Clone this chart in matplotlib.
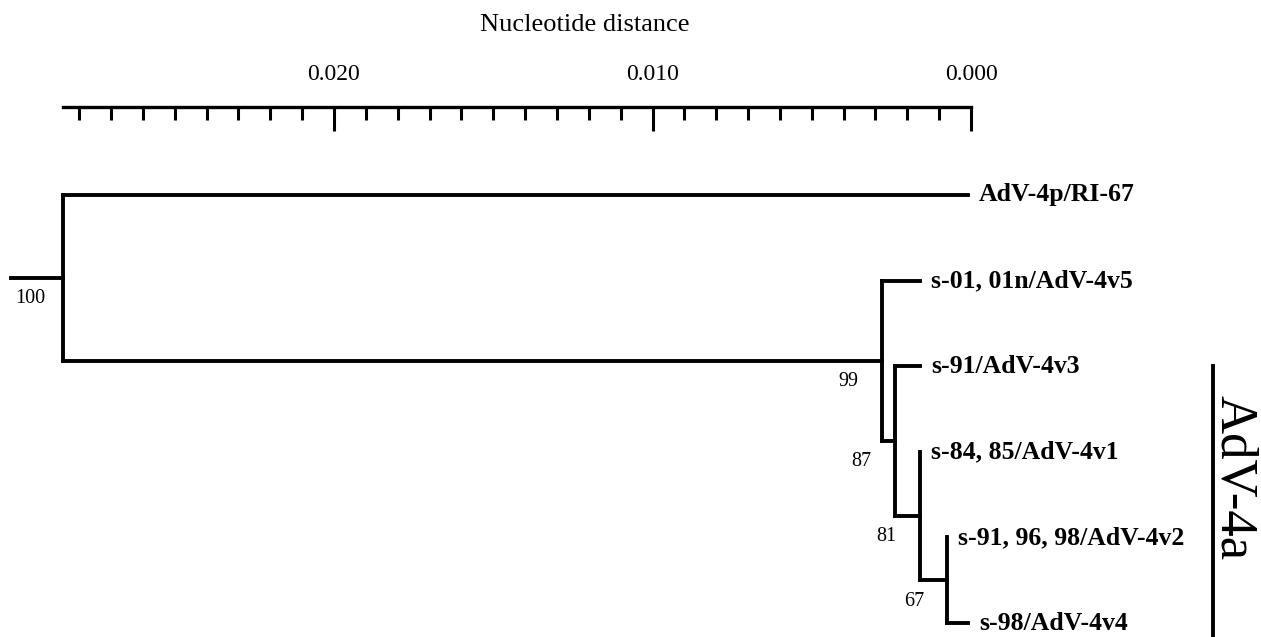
import numpy as np
import matplotlib.pyplot as plt
from matplotlib.ticker import FixedLocator, FormatStrFormatter

plt.rcParams['font.family'] = ['Liberation Serif', 'DejaVu Serif']

# leaves, top to bottom, with their distance from the 0.000 end of the scale
leaves = ['AdV-4p/RI-67', 's-01, 01n/AdV-4v5', 's-91/AdV-4v3',
          's-84, 85/AdV-4v1', 's-91, 96, 98/AdV-4v2', 's-98/AdV-4v4']
leaf_height = [0.0001, 0.0016, 0.0016, 0.0016, 0.00075, 0.0001]

# internal nodes, bottom-up: two children, height and bootstrap support
node_ids = ['n67', 'n81', 'n87', 'n99', 'root']
node_left = ['s-91, 96, 98/AdV-4v2', 's-84, 85/AdV-4v1', 's-91/AdV-4v3',
             's-01, 01n/AdV-4v5', 'AdV-4p/RI-67']
node_right = ['s-98/AdV-4v4', 'n67', 'n81', 'n87', 'n99']
node_height = [0.00075, 0.0016, 0.0024, 0.0028, 0.0285]
bootstrap = [67, 81, 87, 99, 100]

scale_major = [0.0, 0.010, 0.020]
clade_name = 'AdV-4a'
clade_leaves = ['s-91/AdV-4v3', 's-98/AdV-4v4']

# pixel layout of the figure
W, H = 1261, 637
px_per_unit = 31.85 / 0.001      # pixels per unit of distance
x_zero = 971                      # pixel column of distance 0
y_first, y_step = 195, 85.6       # pixel row of first leaf, leaf spacing

fig = plt.figure(figsize=(W / 100, H / 100), dpi=100)
ax = fig.add_axes([0, 0, 1, 1])
xlim = (x_zero / px_per_unit, -(W - x_zero) / px_per_unit)
ax.set_xlim(*xlim)
ax.set_ylim((H - y_first) / y_step, -y_first / y_step)
ax.axis('off')

lw = 2.8
pos = {}
hgt = {}
for i, (name, h) in enumerate(zip(leaves, leaf_height)):
    pos[name] = i
    hgt[name] = h

for nid, left, right, h, bs in zip(node_ids, node_left, node_right, node_height, bootstrap):
    yl, yr = pos[left], pos[right]
    ax.plot([h, h], [yl, yr], color='black', lw=lw, solid_capstyle='projecting')
    for child in (left, right):
        ax.plot([h, hgt[child]], [pos[child], pos[child]], color='black', lw=lw,
                solid_capstyle='projecting')
    pos[nid] = (yl + yr) / 2
    hgt[nid] = h
    ax.annotate(str(bs), (h, pos[nid]), xytext=(-24, -15), textcoords='offset points',
                ha='center', va='center', fontsize=14.5)

# stub to the root
root_h = node_height[-1]
ax.plot([root_h, root_h + 52 / px_per_unit], [pos['root'], pos['root']],
        color='black', lw=lw)

for name in leaves:
    ax.annotate(name, (hgt[name], pos[name]), xytext=(8, 0), textcoords='offset points',
                ha='left', va='center', fontsize=18.5, fontweight='bold')

# clade bracket
bx = -242 / px_per_unit
ax.plot([bx, bx], [pos[clade_leaves[0]], pos[clade_leaves[1]] + 0.5], color='black', lw=2.8)
ax.text(bx - 21 / px_per_unit, (pos[clade_leaves[0]] + pos[clade_leaves[1]]) / 2 - 0.2,
        clade_name, rotation=-90, ha='center', va='center', fontsize=38)

# distance scale
top_frac = 1 - 107 / H
sax = fig.add_axes([0, top_frac - 30 / H, 1, 30 / H])
sax.set_xlim(*xlim)
sax.patch.set_visible(False)
for s in ('left', 'right', 'bottom'):
    sax.spines[s].set_visible(False)
sax.spines['top'].set_linewidth(2.4)
sax.spines['top'].set_bounds(0, root_h)
sax.yaxis.set_visible(False)
sax.xaxis.tick_top()
minor = [t for t in np.arange(0.001, 0.0285, 0.001)
         if min(abs(t - m) for m in scale_major) > 1e-6]
sax.xaxis.set_major_locator(FixedLocator(scale_major))
sax.xaxis.set_minor_locator(FixedLocator(minor))
sax.xaxis.set_major_formatter(FormatStrFormatter('%.3f'))
sax.tick_params(axis='x', which='major', direction='in', length=17, width=2.2,
                pad=16, labelsize=17)
sax.tick_params(axis='x', which='minor', direction='in', length=9, width=2.2)

fig.text(585 / W, 1 - 25 / H, 'Nucleotide distance', ha='center', va='center', fontsize=19)

fig.savefig('out.png', dpi=100, facecolor='white')
